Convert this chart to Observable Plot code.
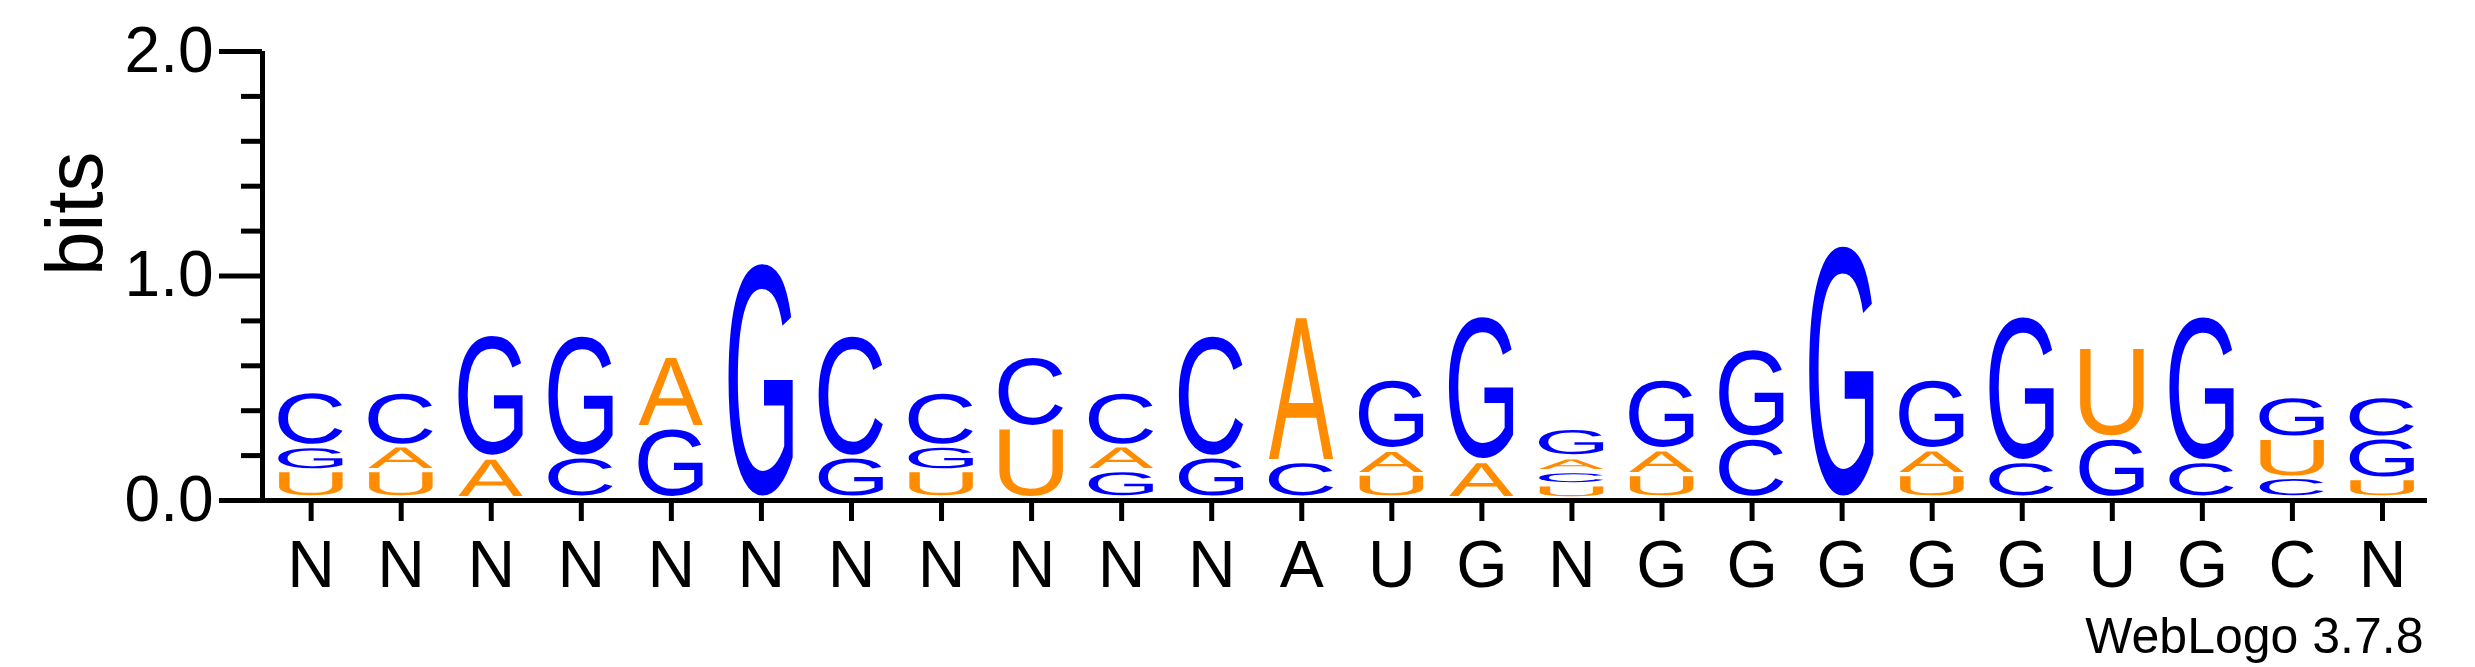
<!DOCTYPE html>
<html lang="en">

<head>
    <meta charset="UTF-8">
    <title>WebLogo sequence logo</title>
    <script src="https://cdn.jsdelivr.net/npm/d3@7"></script>
    <script src="https://cdn.jsdelivr.net/npm/@observablehq/plot@0.6"></script>
    <style>
        body {
            margin: 0;
            background: white;
        }

        #logo svg {
            display: block;
        }
    </style>
</head>

<body>
    <div id="logo"></div>

    <script>
        // position labels along the x axis
        const xLabels = ["N", "N", "N", "N", "N", "N", "N", "N", "N", "N", "N",
            "A", "U", "G", "N", "G", "G", "G", "G", "G", "U", "G", "C", "N"];

        // letters in each stack, bottom to top
        const stackLetters = [
            ["U", "G", "C"], ["U", "A", "C"], ["A", "G"], ["C", "G"], ["G", "A"],
            ["G"], ["G", "C"], ["U", "G", "C"], ["U", "C"], ["G", "A", "C"],
            ["G", "C"], ["C", "A"], ["U", "A", "G"], ["A", "G"], ["U", "C", "A", "G"],
            ["U", "A", "G"], ["C", "G"], ["G"], ["U", "A", "G"], ["C", "G"],
            ["G", "U"], ["C", "G"], ["C", "U", "G"], ["U", "G", "C"]
        ];

        // height of each letter in bits, same order
        const stackBits = [
            [0.122, 0.108, 0.245], [0.122, 0.111, 0.242], [0.181, 0.549], [0.184, 0.546], [0.316, 0.318],
            [1.053], [0.184, 0.546], [0.122, 0.111, 0.242], [0.316, 0.318], [0.122, 0.111, 0.242],
            [0.184, 0.546], [0.163, 0.648], [0.107, 0.108, 0.315], [0.166, 0.648], [0.062, 0.059, 0.062, 0.128],
            [0.104, 0.111, 0.315], [0.270, 0.398], [1.131], [0.104, 0.111, 0.315], [0.163, 0.651],
            [0.270, 0.405], [0.163, 0.651], [0.092, 0.178, 0.186], [0.086, 0.184, 0.186]
        ];

        const yMajor = [0, 1, 2];
        const yMinor = [0.2, 0.4, 0.6, 0.8, 1.2, 1.4, 1.6, 1.8];

        const letterColors = { A: "#ff8c00", U: "#ff8c00", G: "#0000ff", C: "#0000ff" };
        const font = "'Liberation Sans', Arial, Helvetica, sans-serif";
        const glyphWidth = 0.72; // share of a column
        const glyphGap = 4.3;    // px left under each letter

        // stack rows: one per letter with its bottom / top in bits
        const glyphRows = [];
        stackLetters.forEach((letters, pos) => {
            let acc = 0;
            letters.forEach((base, k) => {
                const h = stackBits[pos][k];
                glyphRows.push({ pos, base, y1: acc, y2: acc + h });
                acc += h;
            });
        });

        // stretch each letter's ink to fill its box
        function drawGlyphs(index, scales) {
            const { x, y } = scales;
            const g = d3.create("svg:g");
            const ctx = document.createElement("canvas").getContext("2d");
            ctx.font = `100px ${font}`;
            for (const i of index) {
                const d = glyphRows[i];
                const m = ctx.measureText(d.base);
                const inkW = m.actualBoundingBoxLeft + m.actualBoundingBoxRight;
                const inkH = m.actualBoundingBoxAscent + m.actualBoundingBoxDescent;
                const left = x(d.pos - glyphWidth / 2);
                const right = x(d.pos + glyphWidth / 2);
                const top = y(d.y2);
                const bottom = y(d.y1) - glyphGap;
                const sx = (right - left) / inkW;
                const sy = (bottom - top) / inkH;
                g.append("text")
                    .attr("font-family", font)
                    .attr("font-size", 100)
                    .attr("text-anchor", "start")
                    .attr("text-rendering", "geometricPrecision")
                    .attr("fill", letterColors[d.base])
                    .attr("transform",
                        `translate(${left + m.actualBoundingBoxLeft * sx},${bottom - m.actualBoundingBoxDescent * sy}) scale(${sx},${sy})`)
                    .text(d.base);
            }
            return g.node();
        }

        const logo = Plot.plot({
            width: 2475,
            height: 667,
            marginLeft: 262,
            marginRight: 48,
            marginTop: 51,
            marginBottom: 167,
            style: { fontFamily: font, background: "white", color: "black" },
            x: { type: "linear", domain: [-0.54, 23.5], axis: null },
            y: { domain: [0, 2], axis: null },
            marks: [
                Plot.axisY(yMinor, { tickSize: 21, tickFormat: () => "", strokeWidth: 5, label: null }),
                Plot.axisY(yMajor, {
                    tickSize: 43, tickPadding: 6, tickFormat: d3.format(".1f"),
                    fontSize: 64, strokeWidth: 5, label: null
                }),
                Plot.ruleX([-0.54], { y1: 0, y2: 2, strokeWidth: 5 }),
                Plot.ruleY([0], { strokeWidth: 5 }),
                Plot.axisX(d3.range(xLabels.length), {
                    tickSize: 21, tickPadding: 19, tickFormat: i => xLabels[i],
                    fontSize: 66, strokeWidth: 5, label: null
                }),
                Plot.text(glyphRows, { x: "pos", y: "y2", text: "base", render: drawGlyphs }),
                Plot.text(["bits"], {
                    text: d => d, frameAnchor: "left", rotate: -90,
                    lineAnchor: "bottom", dx: -161, fontSize: 80
                }),
                Plot.text(["WebLogo 3.7.8"], {
                    text: d => d, frameAnchor: "bottom-right", textAnchor: "end",
                    lineAnchor: "bottom", dx: -4, dy: 152, fontSize: 50
                })
            ]
        });

        document.querySelector("#logo").append(logo);
    </script>
</body>

</html>
